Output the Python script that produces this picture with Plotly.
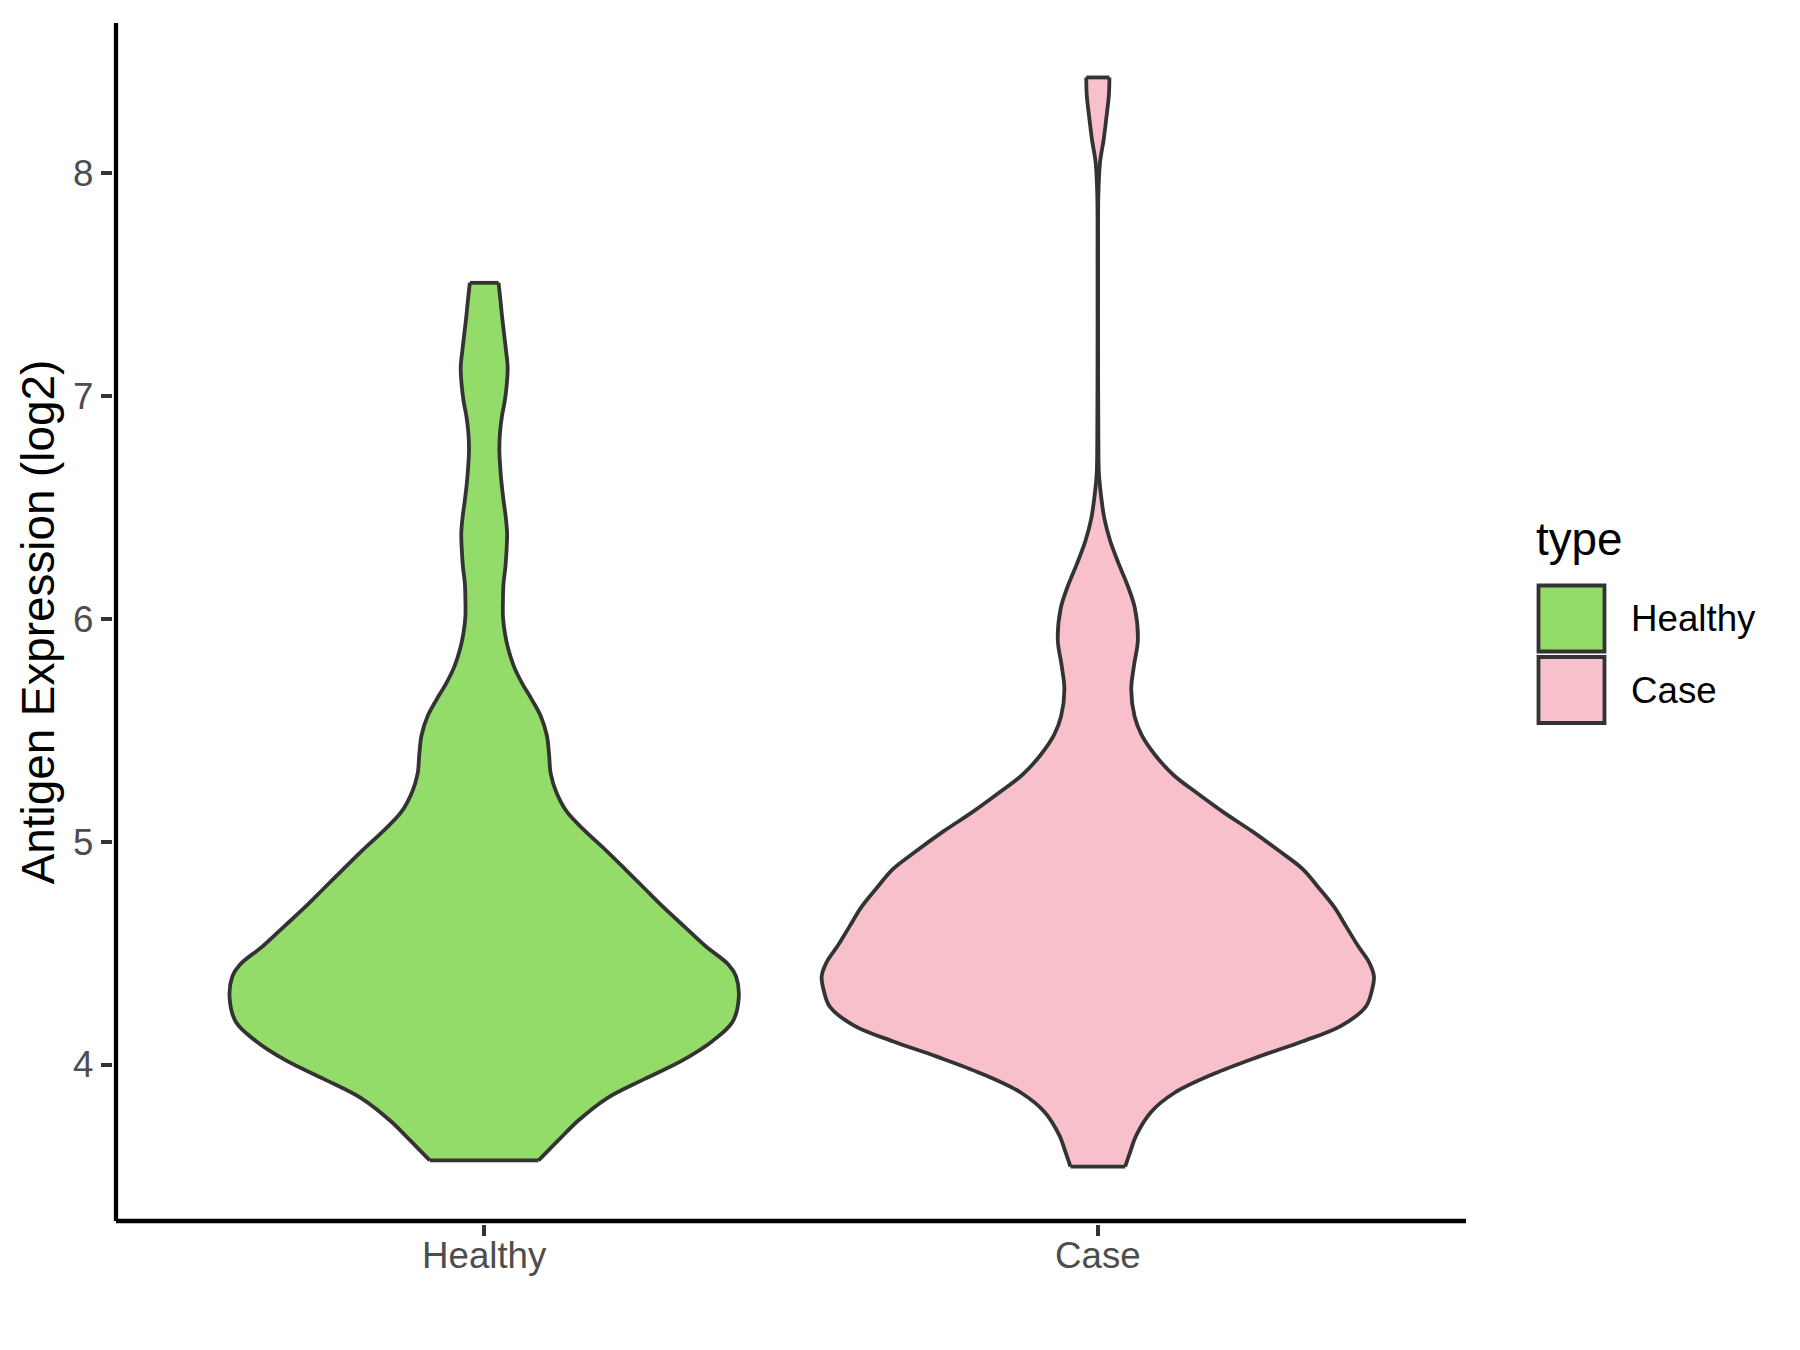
import plotly.graph_objects as go

# ---------------- data ----------------
categories = ["Healthy", "Case"]
fill_colors = ["#93DC6A", "#F7C0CB"]

# violin profiles: expression level (log2) and relative density (violin half-width, peak = 1)
healthy_y = [3.571, 3.660, 3.745, 3.848, 3.934, 4.019, 4.105, 4.191, 4.302, 4.396,
             4.448, 4.533, 4.619, 4.705, 4.791, 4.876, 4.962, 5.047, 5.133, 5.219,
             5.305, 5.391, 5.476, 5.562, 5.636, 5.711, 5.785, 5.860, 5.935, 6.009,
             6.084, 6.158, 6.233, 6.307, 6.382, 6.457, 6.531, 6.606, 6.681, 6.755,
             6.830, 6.905, 6.979, 7.054, 7.128, 7.203, 7.278, 7.352, 7.427, 7.506]
healthy_density = [0.197, 0.268, 0.337, 0.443, 0.578, 0.718, 0.826, 0.899, 0.922, 0.912,
                   0.885, 0.800, 0.725, 0.650, 0.580, 0.511, 0.440, 0.366, 0.300, 0.262,
                   0.241, 0.235, 0.227, 0.205, 0.173, 0.137, 0.108, 0.088, 0.075, 0.068,
                   0.068, 0.070, 0.077, 0.081, 0.083, 0.078, 0.070, 0.063, 0.058, 0.055,
                   0.057, 0.064, 0.075, 0.082, 0.085, 0.079, 0.072, 0.065, 0.059, 0.052]

case_y = [3.543, 3.608, 3.685, 3.788, 3.874, 3.959, 4.037, 4.105, 4.174, 4.259,
          4.330, 4.396, 4.460, 4.533, 4.620, 4.705, 4.790, 4.876, 4.960, 5.047,
          5.130, 5.219, 5.300, 5.391, 5.480, 5.562, 5.682, 5.790, 5.904, 6.048,
          6.148, 6.248, 6.348, 6.447, 6.548, 6.650, 6.800, 7.200, 7.600, 7.900,
          8.047, 8.147, 8.247, 8.347, 8.427]
case_density = [0.099, 0.117, 0.140, 0.193, 0.278, 0.420, 0.585, 0.743, 0.881, 0.970,
                0.992, 1.000, 0.982, 0.942, 0.899, 0.857, 0.802, 0.743, 0.655, 0.558,
                0.457, 0.358, 0.273, 0.206, 0.158, 0.133, 0.121, 0.131, 0.145, 0.134,
                0.108, 0.075, 0.045, 0.024, 0.012, 0.004, 0.002, 0.001, 0.001, 0.002,
                0.008, 0.021, 0.031, 0.040, 0.042]

y_ticks = [4, 5, 6, 7, 8]
y_title = "Antigen Expression (log2)"
legend_title = "type"

# ---------------- styling ----------------
OUTLINE = "#333333"
FONT = "Liberation Sans, Arial, Helvetica, sans-serif"
PAGE_OFF = 8                      # default <body> margin of the html page
W, H = 1800 - PAGE_OFF, 1350 - PAGE_OFF
PLOT_L, PLOT_R, PLOT_T, PLOT_B = 116, 1466, 23, 1221   # plot area in page pixels
ML, MT = PLOT_L - PAGE_OFF, PLOT_T - PAGE_OFF
MR, MB = (W + PAGE_OFF) - PLOT_R, (H + PAGE_OFF) - PLOT_B
PW, PH = PLOT_R - PLOT_L, PLOT_B - PLOT_T
VIOLIN_WIDTH = 0.9
LW = 3.8
AXW = 4.3

profiles = [(healthy_y, healthy_density), (case_y, case_density)]
max_d = max(max(d) for _, d in profiles)
half_scale = (VIOLIN_WIDTH / 2) / max_d

fig = go.Figure()
for i, ((ys, ds), col, name) in enumerate(zip(profiles, fill_colors, categories)):
    pos = i + 1
    left = [pos - d * half_scale for d in ds]
    right = [pos + d * half_scale for d in ds]
    line = dict(color=OUTLINE, width=LW, shape="spline", smoothing=1.0)
    # left edge (no fill), then right edge filled back to the left edge
    fig.add_trace(go.Scatter(x=left, y=ys, mode="lines", line=line, name=name,
                             showlegend=False, hoverinfo="skip"))
    fig.add_trace(go.Scatter(x=right, y=ys, mode="lines", line=line, name=name,
                             fill="tonextx", fillcolor=col,
                             showlegend=False, hoverinfo="skip"))
    # flat trimmed ends of the violin
    fig.add_trace(go.Scatter(x=[left[0], right[0], None, left[-1], right[-1]],
                             y=[ys[0], ys[0], None, ys[-1], ys[-1]],
                             mode="lines", line=dict(color=OUTLINE, width=LW),
                             showlegend=False, hoverinfo="skip"))

all_y = healthy_y + case_y
lo, hi = min(all_y), max(all_y)
pad = (hi - lo) * 0.05
yrange = [lo - pad, hi + pad]


def px_x(px):
    return (px - PLOT_L) / PW


def px_y(py):
    return (PLOT_B - py) / PH


shapes = []
annotations = []
# axis lines centred on the panel edges (ggplot style)
shapes.append(dict(type="line", xref="paper", yref="paper", x0=0, x1=1, y0=0, y1=0,
                   line=dict(color="black", width=AXW)))
shapes.append(dict(type="line", xref="paper", yref="paper", x0=0, x1=0, y0=0, y1=1,
                   line=dict(color="black", width=AXW)))

# ggplot-style legend drawn with shapes + annotations
key_x0, key_size, key_top, key_step = 1538.5, 66, 585.5, 71.5
annotations.append(dict(text=legend_title, x=px_x(1534), y=px_y(539), xref="paper", yref="paper",
                        xanchor="left", yanchor="middle", showarrow=False,
                        font=dict(size=45.8, color="black", family=FONT)))
for i, (name, col) in enumerate(zip(categories, fill_colors)):
    top = key_top + i * key_step
    shapes.append(dict(type="rect", xref="paper", yref="paper",
                       x0=px_x(key_x0), x1=px_x(key_x0 + key_size),
                       y0=px_y(top + key_size), y1=px_y(top),
                       fillcolor=col, line=dict(color=OUTLINE, width=LW)))
    annotations.append(dict(text=name, x=px_x(1629), y=px_y(top + key_size / 2),
                            xref="paper", yref="paper", xanchor="left", yanchor="middle",
                            showarrow=False, font=dict(size=36.7, color="black", family=FONT)))

axis_common = dict(showline=True, linecolor="rgba(0,0,0,0)", linewidth=AXW, ticks="outside",
                   tickcolor=OUTLINE, tickwidth=AXW, ticklen=11, showgrid=False,
                   zeroline=False, tickfont=dict(size=36.7, color="#4D4D4D", family=FONT))

fig.update_layout(
    width=W, height=H,
    margin=dict(l=ML, r=MR, t=MT, b=MB, pad=0, autoexpand=False),
    plot_bgcolor="white", paper_bgcolor="white",
    font=dict(family=FONT),
    xaxis=dict(range=[0.4, 2.6], tickvals=[1, 2], ticktext=categories,
               ticklabelstandoff=-12, **axis_common),
    yaxis=dict(range=yrange, tickvals=y_ticks, ticktext=[str(t) for t in y_ticks],
               title=dict(text=y_title, font=dict(size=45.8, color="black", family=FONT),
                          standoff=5),
               **axis_common),
    shapes=shapes, annotations=annotations, showlegend=False,
)

fig.write_html("out.html")
